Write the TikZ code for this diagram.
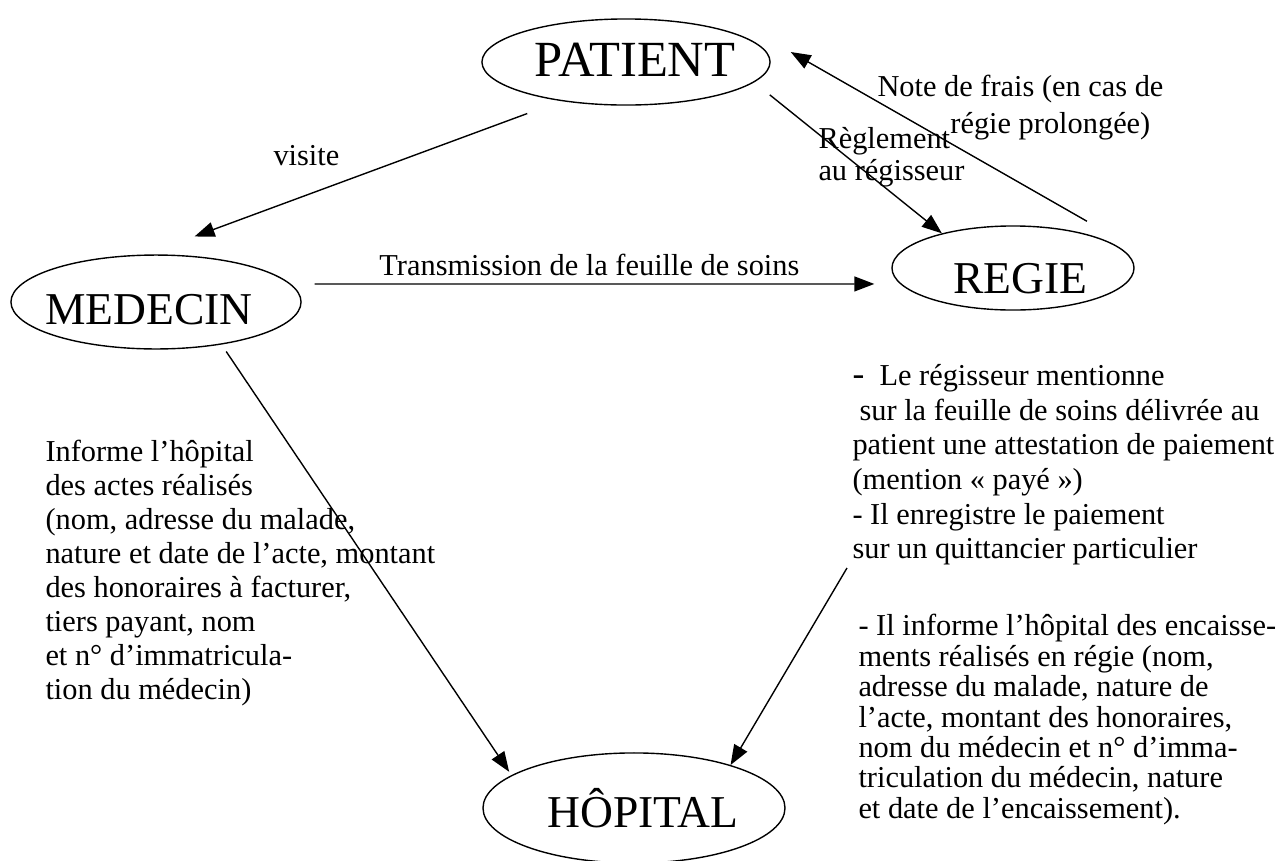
\documentclass[tikz,border=0pt]{standalone}
\usepackage{fontspec}
\setmainfont{Liberation Serif}
\usepackage{tikz}
\usetikzlibrary{shapes.geometric, arrows.meta, positioning}
\tikzset{
    entitynode/.style={ellipse, draw, line width=0.55pt, inner sep=0pt},
    entitylabel/.style={font=\fontsize{18}{18}\selectfont, inner sep=0pt},
    notetext/.style={inner sep=0pt, align=left, font=\fontsize{12}{13.4}\selectfont},
    flowarrow/.style={-{Triangle[length=7.9pt, width=5.9pt]}, line width=0.55pt}
}

\begin{document}
\begin{tikzpicture}[x=0.395pt, y=-0.395pt]
    \useasboundingbox (0,0) rectangle (1277,861);
    % the four actors
    \node[entitynode, minimum width=113.8pt, minimum height=34pt,
        label={[entitylabel, font=\fontsize{20}{20}\selectfont, xshift=3.6pt, yshift=0.8pt]center:PATIENT}] (patient) at (626,62) {};
    \node[entitynode, minimum width=114.6pt, minimum height=37.1pt,
        label={[entitylabel, xshift=-2.8pt, yshift=-3.2pt]center:MEDECIN}] (medecin) at (156,302) {};
    \node[entitynode, minimum width=95.6pt, minimum height=33.2pt,
        label={[entitylabel, xshift=2.8pt, yshift=-4.3pt]center:REGIE}] (regie) at (1013,268) {};
    \node[entitynode, minimum width=119.3pt, minimum height=43.5pt,
        label={[entitylabel, xshift=3.6pt]center:HÔPITAL}] (hopital) at (634,808) {};

    % arrows between actors
    \draw[flowarrow, shorten <=14.2pt, shorten >=20.5pt] (patient.211) -- (medecin.102);
    \draw[flowarrow, shorten <=7.9pt] (patient.351) -- (regie.154);
    \draw[flowarrow] ([xshift=29.2pt, yshift=1.6pt]regie.north) -- ([xshift=7.9pt, yshift=3.95pt]patient.east);
    \draw[flowarrow, shorten <=5.1pt, shorten >=6.7pt] ([yshift=7.1pt]medecin.east) -- ([yshift=-6.3pt]regie.west)
        node[notetext, midway, above=2.8pt, xshift=-2.8pt] (transmission) {Transmission de la feuille de soins};
    \draw[flowarrow, shorten <=3.3pt, shorten >=1.6pt] (medecin.327) -- (hopital.165);
    \coordinate (encaisse) at (847,568);
    \draw[flowarrow] (encaisse) -- (hopital.24);

    % labels
    \node[notetext, anchor=base west] (visite) at (273,165) {visite};
    \node[notetext, anchor=north west, font=\fontsize{12}{12.6}\selectfont] (reglement) at (818,127) {Règlement\\au régisseur};
    \node[notetext, anchor=north west, font=\fontsize{12}{14.6}\selectfont] (notefrais) at (877,75)
        {Note de frais (en cas de\\\hspace*{28.8pt}régie prolongée)};
    \node[notetext, anchor=north west] (informe) at (45,440)
        {Informe l’hôpital\\des actes réalisés\\(nom, adresse du malade,\\nature et date de l’acte, montant\\des honoraires à facturer,\\tiers payant, nom\\et n° d’immatricula-\\tion du médecin)};
    \node[notetext, anchor=north west, font=\fontsize{12}{13.67}\selectfont] (mentionne) at (852,364)
        {{\fontsize{14}{13.67}\selectfont -}\ \ Le régisseur mentionne\\\hspace*{2.8pt}sur la feuille de soins délivrée au\\patient une attestation de paiement\\(mention «~payé~»)\\- Il enregistre le paiement\\sur un quittancier particulier};
    \node[notetext, anchor=north west, font=\fontsize{12}{12}\selectfont] (encaissement) at (858,614)
        {- Il informe l’hôpital des encaisse-\\ments réalisés en régie (nom,\\adresse du malade, nature de\\l’acte, montant des honoraires,\\nom du médecin et n° d’imma-\\triculation du médecin, nature\\et date de l’encaissement).};
\end{tikzpicture}
\end{document}
